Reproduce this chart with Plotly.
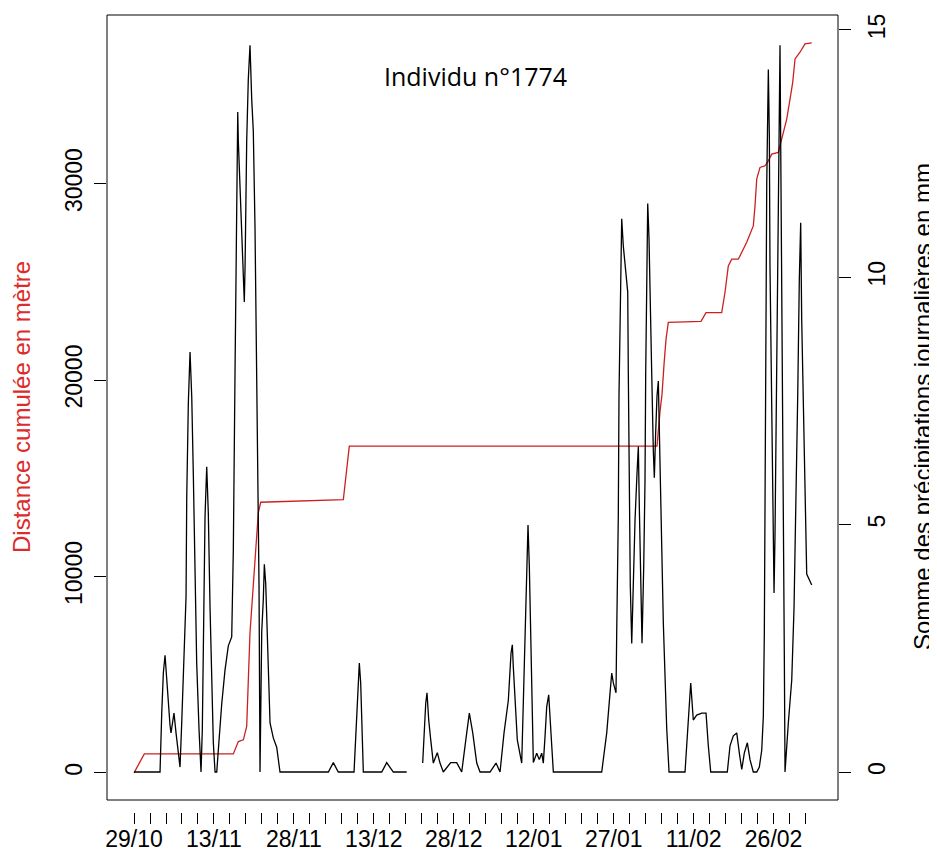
import plotly.graph_objects as go

# ---------------- data (days since 29/10) ----------------
precip_day = [
    0.0, 4.88, 5.2, 5.5, 5.82, 5.95, 6.44, 6.75, 6.94, 7.5, 7.88, 8.31, 8.63, 8.95,
    9.42, 9.76, 9.89, 10.19, 10.51, 10.83, 11.13, 11.44, 11.76, 12.2, 12.57, 12.81,
    13.0, 13.19, 13.32, 13.64, 13.94, 14.26, 14.58, 14.88, 15.2, 15.52, 15.82, 16.45,
    17.07, 17.69, 18.33, 18.63, 18.95, 19.27, 19.46, 19.57, 19.89, 20.21, 20.51, 20.69,
    20.83, 21.14, 21.44, 21.76, 22.08, 22.38, 22.7, 23.02, 23.32, 23.45, 23.64, 23.96,
    24.26, 24.45, 24.71, 25.08, 25.52, 26.13, 26.77, 27.39, 36.46, 37.39, 38.33, 41.28,
    41.65, 41.9, 42.27, 42.53, 42.72, 43.02, 46.47, 47.41, 48.65, 51.16, 52.6,
    54.16, 54.41, 54.73, 54.97, 55.29, 55.67, 56.15, 56.9, 57.41, 58.03, 59.42, 60.54,
    61.48, 62.42, 62.91, 63.55, 64.3, 64.92, 66.79, 67.92, 68.67, 69.42, 70.23, 70.73,
    70.98, 71.16, 71.48, 71.91, 72.74, 73.04, 73.41, 73.68, 73.92, 74.17, 74.43, 74.67,
    74.92, 75.55, 76.04, 76.49, 76.79, 77.11, 77.43, 77.8, 78.05, 78.37, 78.67, 87.75,
    88.69, 89.31, 89.63, 89.93, 90.43, 90.56, 90.86, 90.99, 91.24, 91.5, 91.8, 92.25,
    92.63, 92.74, 92.87, 93.11, 93.38, 93.68, 94.0, 94.37, 94.62, 94.81, 95.07, 95.31,
    95.63, 95.87, 96.0, 96.19, 96.38, 96.62, 96.81, 97.13, 97.43, 97.62, 97.88, 98.12,
    98.37, 98.69, 99.01, 99.31, 99.63, 99.94, 100.38, 103.38, 104.0, 104.45, 104.93,
    105.57, 106.51, 107.32, 107.75, 108.2, 111.31, 111.82, 112.44, 113.08, 113.57,
    114.02, 114.5, 115.07, 115.57, 116.19, 116.83, 117.32, 117.77, 118.07, 118.26,
    118.52, 118.71, 119.01, 119.2, 119.32, 119.64, 119.83, 120.08, 120.26, 120.58,
    120.88, 121.07, 121.2, 121.39, 121.63, 121.82, 122.01, 122.14, 122.76, 123.4,
    123.83, 124.2, 124.52, 124.82, 125.08, 125.27, 125.57, 125.89, 126.21, 127.15,
]
precip_mm = [
    0, 0, 1.19, 2.0, 2.36, 2.13, 1.45, 0.95, 0.79, 1.19, 0.79, 0.38, 0.1, 1.0,
    2.46, 3.54, 5.56, 7.45, 8.49, 7.58, 6.0, 4.02, 2.2, 0.85, 0, 0.85,
    2.46, 4.22, 5.16, 6.17, 5.23, 3.33, 1.52, 0.59, 0, 0, 0.45, 1.37,
    2.06, 2.55, 2.73, 4.48, 8.08, 11.59, 13.34, 12.75, 11.88, 10.9, 10.03, 9.5,
    10.2, 12.75, 14.0, 14.69, 13.6, 12.95, 11.0, 7.8, 5.26, 3.8, 0, 2.83,
    3.5, 4.2, 3.8, 2.34, 0.99, 0.69, 0.5, 0, 0, 0.19, 0, 0,
    0.79, 1.32, 2.2, 1.8, 1.05, 0, 0, 0.19, 0, 0, None,
    0.18, 0.85, 1.39, 1.6, 1.05, 0.65, 0.18, 0.39, 0.18, 0, 0.19, 0.19,
    0, 0.79, 1.19, 0.79, 0.18, 0, 0, 0.18, 0, 0.79, 1.45, 2.4,
    2.57, 2.13, 1.45, 0.65, 0.18, 1.45, 3.14, 4.35, 4.99, 4.15, 2.6, 0.92,
    0.19, 0.38, 0.25, 0.38, 0.18, 0.71, 1.32, 1.56, 1.05, 0.44, 0, 0,
    0.79, 1.6, 2.0, 1.8, 1.6, 2.8, 5.17, 7.6, 10.0, 11.18, 10.63, 10.17,
    9.7, 8.06, 6.11, 3.78, 2.6, 4.16, 5.1, 6.04, 6.58, 5.33, 3.78, 2.6,
    4.16, 5.88, 8.06, 10.4, 11.49, 10.79, 9.46, 8.06, 6.5, 5.95, 6.89, 7.6,
    7.9, 5.88, 4.55, 3.0, 1.98, 0.89, 0, 0, 1.05, 1.8, 1.05,
    1.15, 1.19, 1.19, 0.53, 0, 0, 0.53, 0.73, 0.79, 0.38,
    0.05, 0.38, 0.59, 0.25, 0, 0, 0.1, 0.44, 1.12, 2.83,
    7.31, 11.88, 14.2, 12.85, 10.22, 7.6, 4.97, 3.62, 4.78, 7.7,
    10.5, 13.33, 14.69, 12.27, 8.67, 5.26, 2.34, 0, 0.99, 1.86,
    3.32, 5.26, 7.6, 9.94, 11.1, 9.15, 7.4, 5.17, 4.0, 3.78,
]

dist_day = [
    0.0, 1.93, 18.63, 19.57, 20.51, 21.14, 21.76, 22.38, 22.7, 23.02, 23.32, 23.77,
    28.89, 39.27, 40.39, 98.12, 98.69, 99.06, 99.44, 99.81, 100.24, 106.38, 107.32,
    110.26, 110.88, 111.5, 112.14, 113.38, 114.95, 116.19, 116.51, 116.83, 117.45,
    118.39, 119.01, 119.64, 120.88, 121.52, 122.46, 123.08, 123.58, 124.02, 124.95,
    125.89, 127.15,
]
dist_m = [
    0, 968, 968, 1595, 1682, 2360, 7136, 9496, 10857, 11876, 13252, 13777,
    13828, 13915, 16632, 16632, 18400, 19267, 20796, 22070, 22937, 22988, 23431,
    23431, 24466, 25806, 26148, 26148, 27014, 27845, 28864, 30225, 30821,
    30903, 31158, 31499, 31586, 32264, 33283, 34303, 35154, 36342, 36684,
    37106, 37157,
]

date_labels = ["29/10", "13/11", "28/11", "13/12", "28/12", "12/01", "27/01", "11/02", "26/02"]
tick_days = list(range(0, 127, 3))
left_ticks = [0, 10000, 20000, 30000]
right_ticks = [0, 5, 10, 15]

# ---------------- figure ----------------
# The page body has an 8px margin, so the figure is shifted by 8px
OFF = 8
W, H = 937 - OFF, 855 - OFF
ML, MR, MT, MB = 107 - OFF, 99, 15 - OFF, 35 + OFF
plot_h = H - MT - MB
ybot = 12 / plot_h  # gap between box bottom and x ticks

ticktext = [date_labels[d // 15] if d % 15 == 0 and d // 15 < len(date_labels) else "" for d in tick_days]

FONT = "Liberation Sans, Arial, sans-serif"
RED_LINE = "#cc2020"
RED_TXT = "#dd2a2a"

fig = go.Figure()
fig.add_trace(go.Scatter(x=dist_day, y=dist_m, mode="lines",
                         line=dict(color=RED_LINE, width=1.3), yaxis="y", showlegend=False))
fig.add_trace(go.Scatter(x=precip_day, y=precip_mm, mode="lines", connectgaps=False,
                         line=dict(color="black", width=1.3), yaxis="y2", showlegend=False))

fig.update_layout(
    width=W, height=H,
    margin=dict(l=ML, r=MR, t=MT, b=MB, autoexpand=False),
    paper_bgcolor="white", plot_bgcolor="white",
    font=dict(family=FONT, size=23, color="black"),
    xaxis=dict(range=[-5.07, 132.08], anchor="free", position=0, automargin=False,
               showline=False, showgrid=False, zeroline=False,
               ticks="outside", ticklen=11, tickwidth=1, tickcolor="black",
               tickvals=tick_days, ticktext=ticktext, tickangle=0,
               ticklabelstandoff=-5,
               tickfont=dict(family=FONT, size=23, color="black")),
    yaxis=dict(domain=[ybot, 1], range=[-1380, 38580], automargin=False,
               showline=False, showgrid=False, zeroline=False,
               ticks="outside", ticklen=12, tickwidth=1, tickcolor="black",
               tickvals=left_ticks, ticktext=[str(v) for v in left_ticks], tickangle=-90,
               ticklabelstandoff=3,
               tickfont=dict(family=FONT, size=23, color="black")),
    yaxis2=dict(domain=[ybot, 1], range=[-0.566, 15.30], overlaying="y", side="right",
                automargin=False,
                showline=False, showgrid=False, zeroline=False,
                ticks="outside", ticklen=12, tickwidth=1, tickcolor="black",
                tickvals=right_ticks, ticktext=[str(v) for v in right_ticks], tickangle=-90,
                ticklabelstandoff=6,
                tickfont=dict(family=FONT, size=23, color="black")),
    shapes=[dict(type="rect", xref="paper", yref="paper", x0=0, x1=1, y0=ybot, y1=1,
                 line=dict(color="black", width=1), fillcolor="rgba(0,0,0,0)", layer="above")],
)

pw = W - ML - MR
def px_x(x):
    return (x - OFF - ML) / pw
def px_y(y):
    return (H - MB - (y - OFF)) / plot_h

fig.add_annotation(text="Distance cumulée en mètre", x=px_x(22), y=px_y(407), xref="paper", yref="paper",
                   textangle=-90, showarrow=False, xanchor="center", yanchor="middle",
                   font=dict(family=FONT, size=24, color=RED_TXT))
fig.add_annotation(text="Somme des précipitations journalières en mm", x=px_x(923), y=px_y(407),
                   xref="paper", yref="paper", textangle=-90, showarrow=False,
                   xanchor="center", yanchor="middle",
                   font=dict(family=FONT, size=24, color="black"))
fig.add_annotation(text="Individu n°1774", x=px_x(475), y=px_y(76), xref="paper", yref="paper",
                   showarrow=False, xanchor="center", yanchor="middle",
                   font=dict(family="Open Sans, sans-serif", size=25, color="black"))

fig.write_html("out.html")
